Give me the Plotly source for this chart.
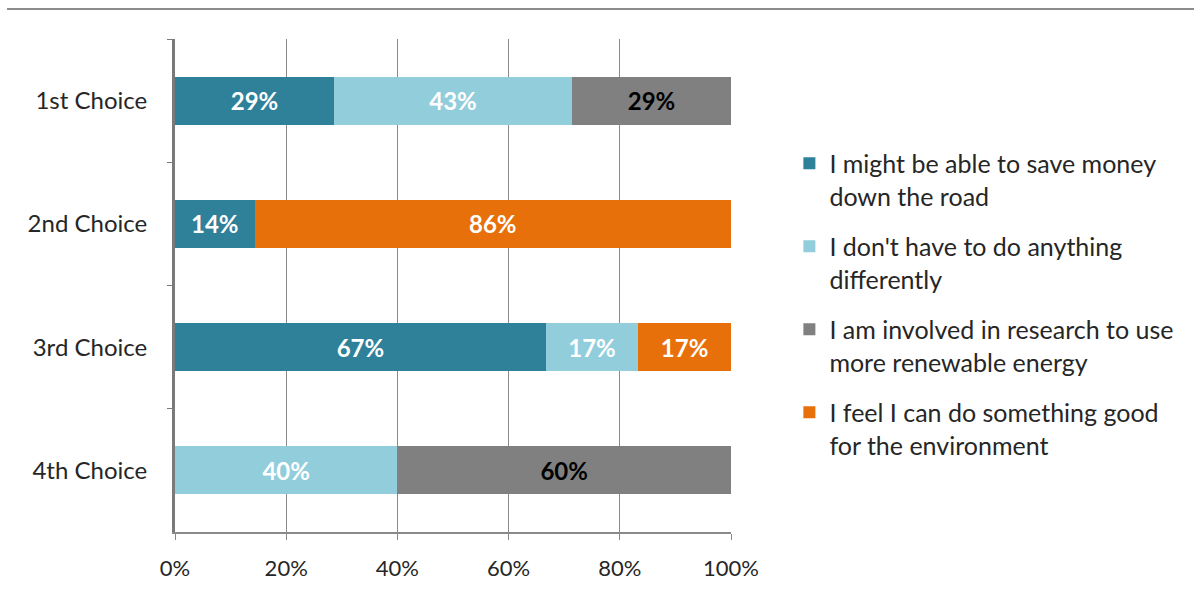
import plotly.graph_objects as go

categories = ["1st Choice", "2nd Choice", "3rd Choice", "4th Choice"]
series_names = [
    "I might be able to save money<br>down the road",
    "I don't have to do anything<br>differently",
    "I am involved in research to use<br>more renewable energy",
    "I feel I can do something good<br>for the environment",
]
save_money = [28.6, 14.3, 66.7, None]
nothing_different = [42.8, None, 16.6, 40.0]
research = [28.6, None, None, 60.0]
environment = [None, 85.7, 16.7, None]
x_ticks = [0, 20, 40, 60, 80, 100]
x_tick_labels = ["0%", "20%", "40%", "60%", "80%", "100%"]

colors = ["#2E8199", "#92CDDC", "#808080", "#E8700A"]
text_colors = ["white", "white", "black", "white"]
FONT = "Lato"

TOP, BOTTOM = 39, 532
H = BOTTOM - TOP

fig = go.Figure()
for i, (name, vals) in enumerate(zip(series_names,
                                     [save_money, nothing_different, research, environment])):
    fig.add_trace(go.Bar(
        y=categories, x=vals, name=name, orientation="h",
        marker=dict(color=colors[i], line=dict(width=0)),
        texttemplate="<b>%{x:.0f}%</b>", textposition="inside",
        insidetextanchor="middle", textangle=0,
        textfont=dict(color=text_colors[i], size=24, family=FONT),
        legendgroup=f"g{i}", hoverinfo="skip",
    ))

fig.update_layout(
    barmode="stack", bargap=0.61,
    width=1194, height=593,
    margin=dict(l=175, r=463, t=TOP, b=593 - BOTTOM),
    paper_bgcolor="white", plot_bgcolor="white",
    font=dict(family=FONT, size=20, color="#262626"),
    legend=dict(
        x=1.105, xanchor="left", y=0.794, yanchor="top",
        valign="top", traceorder="grouped", tracegroupgap=15,
        font=dict(size=25, color="#262626", family=FONT),
        bgcolor="rgba(0,0,0,0)",
    ),
    xaxis=dict(
        range=[0, 100], tickvals=x_ticks, ticktext=x_tick_labels,
        showgrid=True, gridcolor="#8A8A8A", gridwidth=1,
        showline=True, linecolor="#8A8A8A", linewidth=2,
        ticks="outside", ticklen=6, tickcolor="#8A8A8A",
        ticklabelstandoff=10, zeroline=False,
        tickfont=dict(size=22, color="#262626"),
    ),
    yaxis=dict(
        autorange="reversed", showline=True, linecolor="#7A7A7A", linewidth=3,
        ticks="outside", ticklen=5, tickcolor="#7A7A7A", tickson="boundaries",
        ticklabelstandoff=20, showgrid=False,
        tickfont=dict(size=24, color="#262626"),
    ),
    shapes=[dict(type="line", xref="paper", yref="paper",
                 x0=(7 - 175) / 556, x1=(1194 - 175) / 556,
                 y0=(BOTTOM - 9) / H, y1=(BOTTOM - 9) / H,
                 line=dict(color="#8C8C8C", width=2))],
    showlegend=True,
)

fig.write_html("out.html")
